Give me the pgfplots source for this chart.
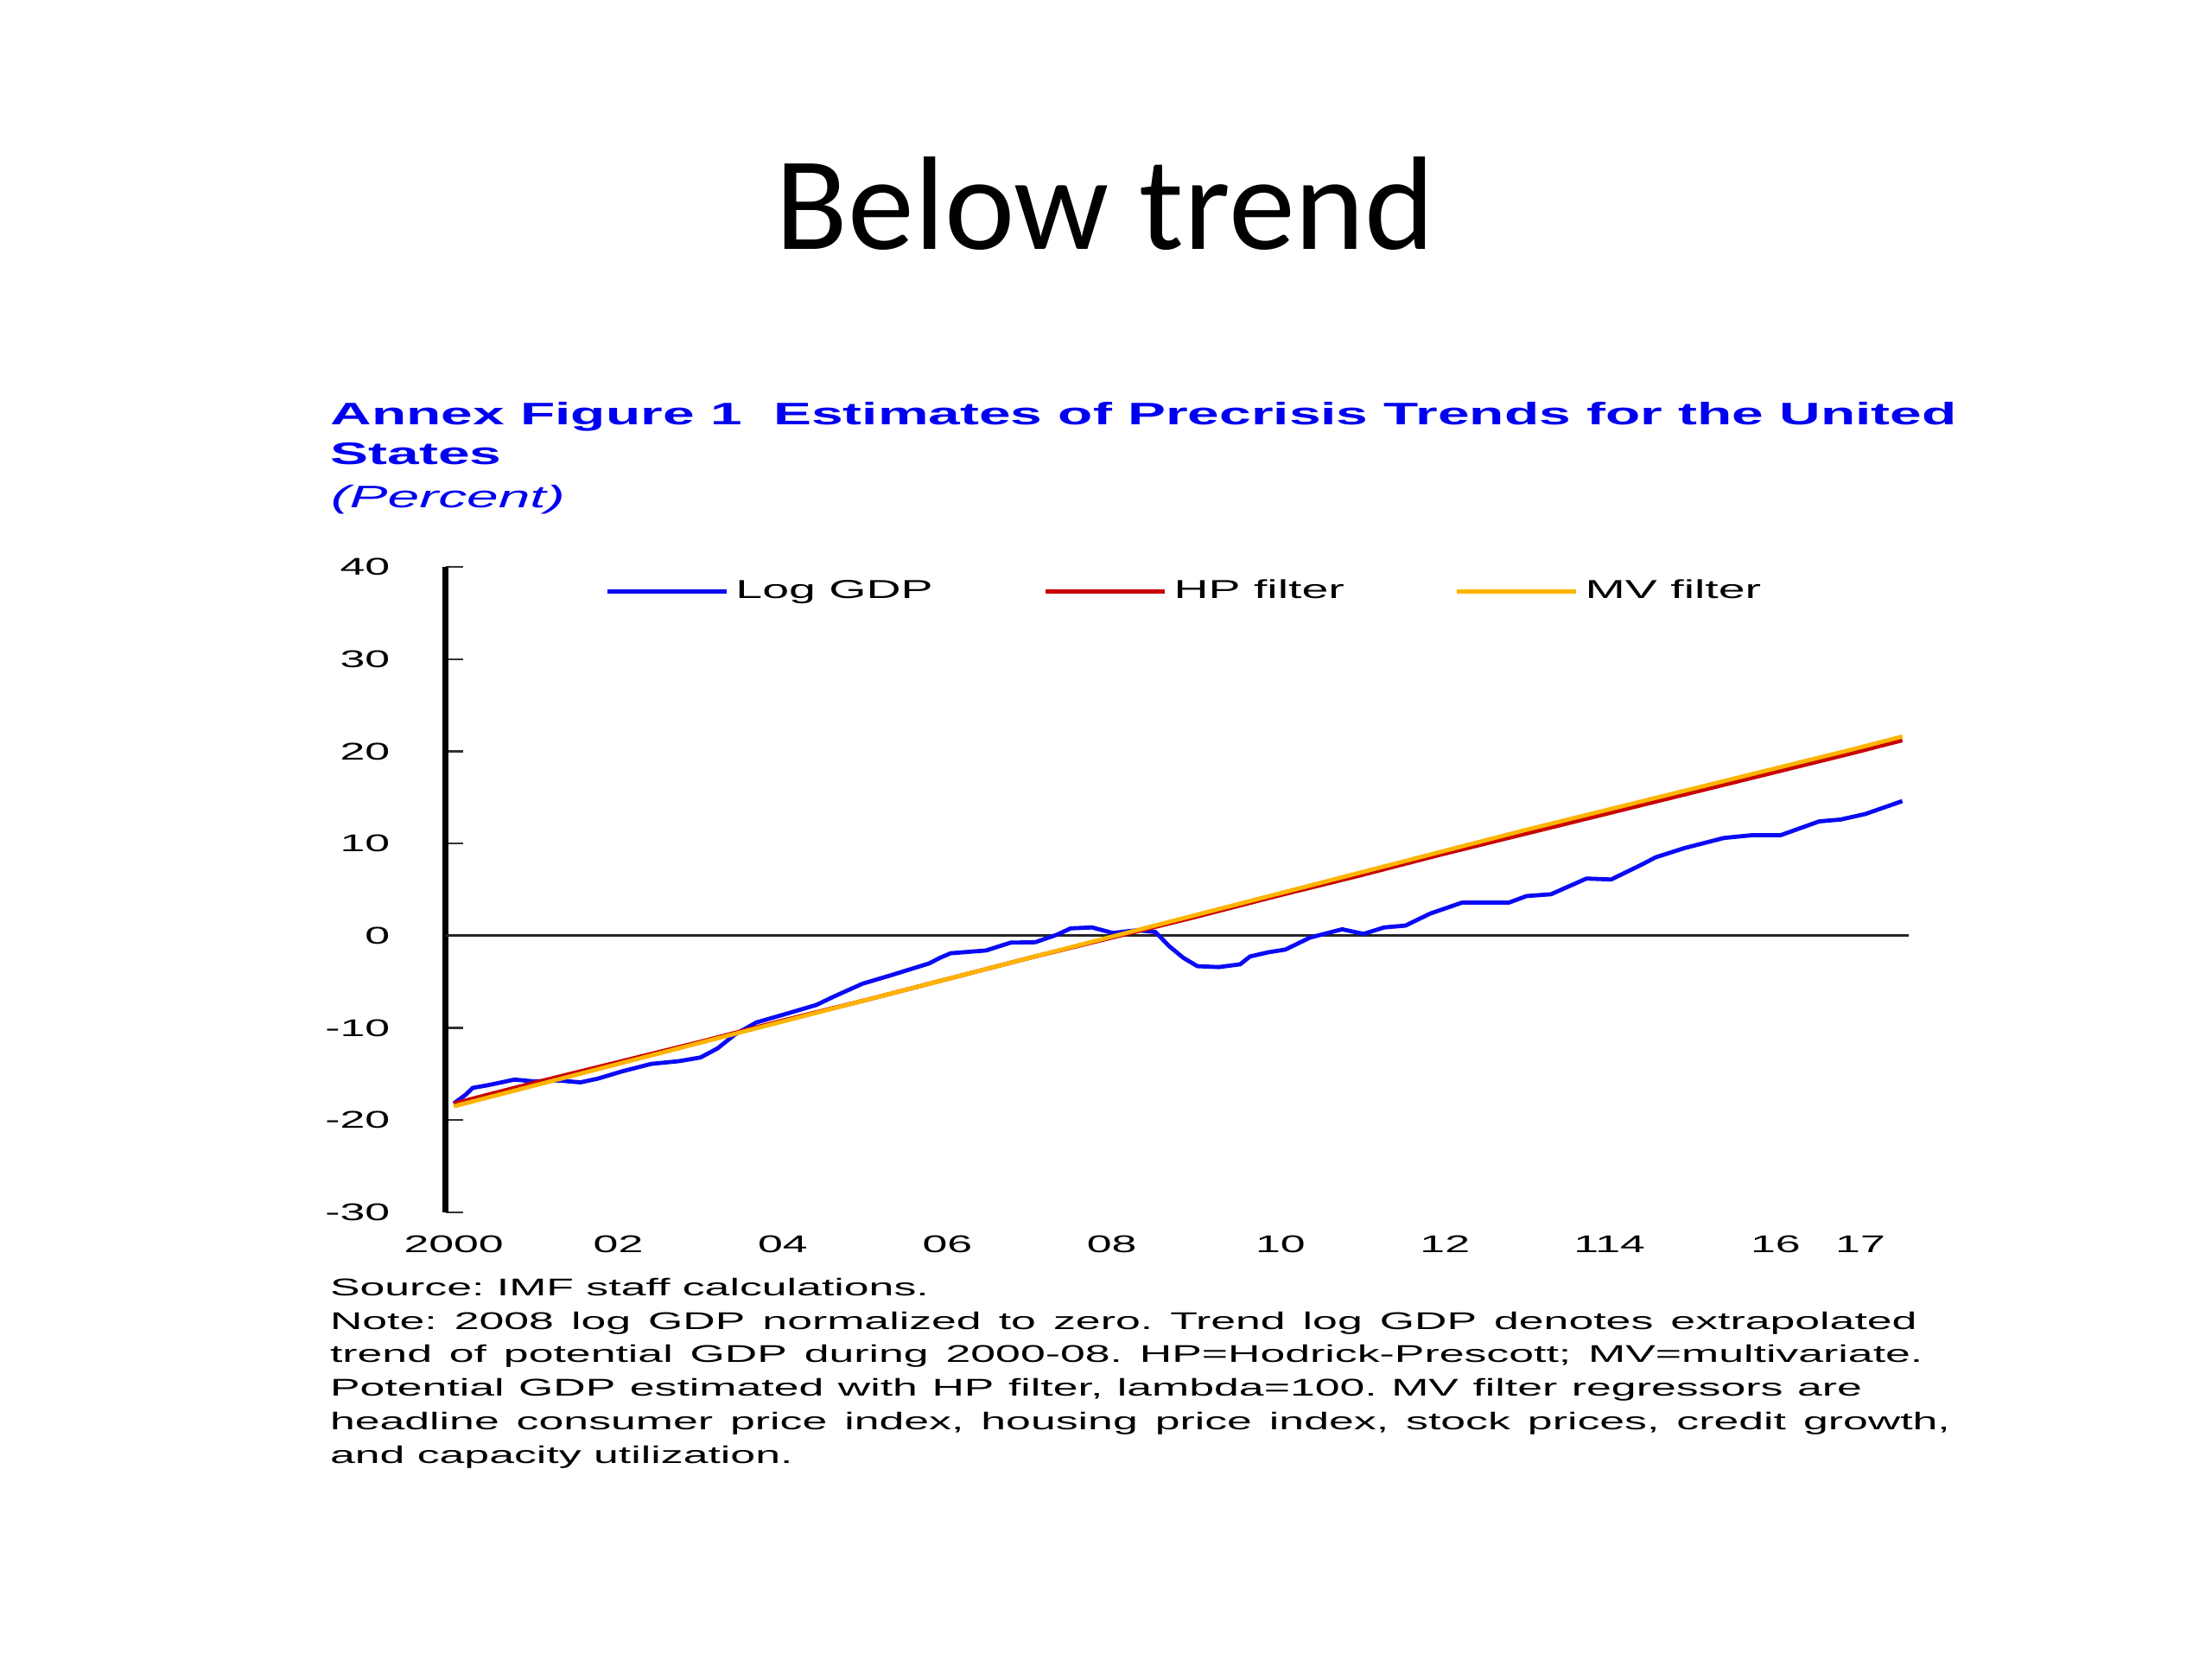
\documentclass[border=0pt]{standalone}
\usepackage{fontspec}
\setmainfont{Carlito}
\newfontfamily\figfont[FakeStretch=1.85]{Liberation Sans}
\newfontfamily\titfont[FakeStretch=1.83]{Liberation Sans}
\usepackage{pgfplots}
\pgfplotsset{compat=1.18}
\definecolor{tblue}{RGB}{0,0,240}
\definecolor{lblue}{RGB}{10,10,245}
\definecolor{hpred}{RGB}{200,0,0}
\definecolor{mvorange}{RGB}{255,180,0}
\frenchspacing
\begin{document}
\begin{tikzpicture}
\useasboundingbox (0,0) rectangle (640pt,480pt);
\fill[white] (0,0) rectangle (640pt,480pt);
\node[anchor=base, inner sep=0pt, font=\fontsize{38.5}{46}\selectfont] at (319.75pt,407.75pt) {Below trend};
\node[anchor=base west, inner sep=0pt, text=tblue, font=\titfont\bfseries\fontsize{9}{11}\selectfont] at (95.5pt,357pt) {Annex Figure 1\ \ Estimates of Precrisis Trends for the United};
\node[anchor=base west, inner sep=0pt, text=tblue, font=\titfont\bfseries\fontsize{9}{11}\selectfont] at (95.5pt,345.5pt) {States};
\node[anchor=base west, inner sep=0pt, text=tblue, font=\titfont\itshape\fontsize{9}{11}\selectfont] at (95.5pt,333pt) {(Percent)};
\begin{scope}[every node/.style={anchor=base west, inner sep=0pt, font=\figfont\fontsize{7}{8}\selectfont}]
\node at (95.3pt,105.2pt) {Source: IMF staff calculations.};
\node at (95.3pt,95.5pt) {\makebox[459.2pt][s]{Note: 2008 log GDP normalized to zero. Trend log GDP denotes extrapolated}};
\node at (95.3pt,85.8pt) {\makebox[460.9pt][s]{trend of potential GDP during 2000-08. HP=Hodrick-Prescott; MV=multivariate.}};
\node at (95.3pt,76.2pt) {\makebox[443.3pt][s]{Potential GDP estimated with HP filter, lambda=100. MV filter regressors are}};
\node at (95.3pt,66.3pt) {\makebox[468.8pt][s]{headline consumer price index, housing price index, stock prices, credit growth,}};
\node at (95.3pt,56.7pt) {and capacity utilization.};
\end{scope}
\begin{axis}[
  at={(128.9pt,129.25pt)}, anchor=south west,
  scale only axis, width=423.4pt, height=186.75pt,
  xmin=1999.9, xmax=2017.69, ymin=-30, ymax=40,
  axis y line*=left, axis x line*=bottom,
  x axis line style={draw=none},
  y axis line style={line width=1.6pt, black},
  ytick={-30,-20,-10,0,10,20,30,40},
  yticklabels={-30,-20,-10,0,10,20,30,40},
  xtick={2000,2002,2004,2006,2008,2010.05,2012.05,2014.05,2016.07,2017.1},
  xticklabels={2000,02,04,06,08,10,12,114,16,17},
  tick align=inside, major tick length=5pt,
  x tick style={draw=none},
  y tick style={line width=0.6pt, black!80},
  yticklabel style={inner sep=0pt, anchor=east, xshift=-15.9pt},
  xticklabel style={inner sep=0pt, anchor=base, yshift=-11.65pt},
  tick label style={font=\figfont\fontsize{7}{8}\selectfont},
  clip=false,
  legend columns=3,
  legend cell align=left,
  legend style={draw=none, fill=none, at={(0.1088,0.9615)}, anchor=west, inner sep=0pt,
    font=\figfont\fontsize{7.5}{9}\selectfont,
    /tikz/every even column/.append style={column sep=30pt}},
  legend image code/.code={\draw[#1] (0pt,0pt) -- (34.5pt,0pt);},
]
\addplot[black!85, line width=0.7pt, forget plot] coordinates {(1999.9,0) (2017.69,0)};
\addplot[lblue, line width=1.2pt] coordinates {
(2000.0,-18.2) (2000.15,-17.2) (2000.23,-16.5) (2000.42,-16.2) (2000.74,-15.6)
(2000.98,-15.8) (2001.28,-15.7) (2001.54,-15.9) (2001.75,-15.5) (2002.05,-14.7)
(2002.4,-13.9) (2002.74,-13.6) (2003.0,-13.2) (2003.21,-12.2) (2003.42,-10.7)
(2003.68,-9.4) (2004.03,-8.5) (2004.41,-7.5) (2004.62,-6.6) (2004.97,-5.2)
(2005.31,-4.3) (2005.78,-3.0) (2005.91,-2.4) (2006.04,-1.9) (2006.47,-1.6)
(2006.77,-0.75) (2007.07,-0.7) (2007.33,0.1) (2007.5,0.8) (2007.76,0.9)
(2008.01,0.3) (2008.31,0.6) (2008.53,0.4) (2008.7,-1.15) (2008.87,-2.4)
(2009.04,-3.3) (2009.3,-3.4) (2009.56,-3.1) (2009.68,-2.25) (2009.9,-1.8)
(2010.11,-1.5) (2010.41,-0.2) (2010.8,0.7) (2011.06,0.2) (2011.31,0.9)
(2011.57,1.1) (2011.87,2.4) (2012.26,3.6) (2012.83,3.6) (2013.04,4.3)
(2013.34,4.5) (2013.77,6.2) (2014.07,6.1) (2014.45,7.75) (2014.61,8.5)
(2014.96,9.5) (2015.44,10.6) (2015.78,10.9) (2016.13,10.9) (2016.6,12.4)
(2016.86,12.6) (2017.16,13.2) (2017.61,14.6)};
\addlegendentry{Log GDP}
\addplot[hpred, line width=1.2pt] coordinates {
(2000,-18.2) (2001,-15.9) (2002,-13.7) (2003,-11.5) (2004,-9.2) (2005,-7.0)
(2006,-4.7) (2007,-2.4) (2008,-0.2) (2009,2.0) (2010,4.3) (2011,6.5) (2012,8.8)
(2013,11.0) (2014,13.2) (2015,15.4) (2016,17.6) (2017,19.8) (2017.61,21.2)};
\addlegendentry{HP filter}
\addplot[mvorange, line width=1.2pt] coordinates {
(2000,-18.5) (2001,-16.2) (2002,-13.9) (2003,-11.6) (2004,-9.3) (2005,-7.0)
(2006,-4.7) (2007,-2.4) (2008,-0.1) (2009,2.2) (2010,4.5) (2011,6.8) (2012,9.1)
(2013,11.4) (2014,13.6) (2015,15.8) (2016,18.0) (2017,20.2) (2017.61,21.6)};
\addlegendentry{MV filter}
\end{axis}
\end{tikzpicture}
\end{document}
